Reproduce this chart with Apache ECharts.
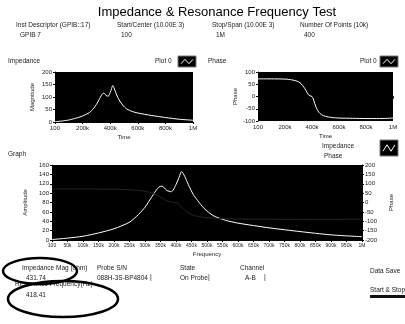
<!DOCTYPE html>
<html><head><meta charset="utf-8">
<script src="https://cdn.jsdelivr.net/npm/echarts@6/dist/echarts.min.js"></script>
<style>html,body{margin:0;padding:0;background:#fff}#c{width:405px;height:324px}</style>
</head><body><div id="c"></div>
<script>
// ---- data ----
const impFreq = [100, 50000, 100000, 150000, 200000, 250000, 280000, 300000, 320000, 335000, 345000, 355000, 370000, 385000, 400000, 410000, 418000, 428000, 440000, 455000, 470000, 490000, 520000, 560000, 600000, 700000, 800000, 900000, 1000000];
const impedance = [1, 4, 8, 15, 24, 38, 55, 70, 90, 105, 113, 115, 106, 103, 118, 134, 146, 136, 118, 98, 84, 68, 52, 42, 36, 26, 18, 11, 7];
const phaseFreq = [100, 100000, 200000, 250000, 280000, 300000, 320000, 340000, 355000, 370000, 385000, 400000, 410000, 420000, 435000, 450000, 470000, 500000, 550000, 600000, 700000, 800000, 900000, 1000000];
const phase = [72, 72, 71, 68, 64, 60, 52, 38, 25, 10, 3, 0, -10, -28, -50, -64, -74, -81, -86, -88, -89, -90, -90, -88];
const smallTicks = [100, 200000, 400000, 600000, 800000, 1000000];
const bigTicks = [100, 50000, 100000, 150000, 200000, 250000, 300000, 350000, 400000, 450000, 500000, 550000, 600000, 650000, 700000, 750000, 800000, 850000, 900000, 950000, 1000000];
const headerLabels = ['Inst Descriptor (GPIB::17)', 'Start/Center (10.00E 3)', 'Stop/Span (10.00E 3)', 'Number Of Points (10k)'];
const headerValues = ['GPIB 7', '100', '1M', '400'];

const F = 'Liberation Sans';
const C = '#222';
function fmtHz(v){ if (v >= 1000000) return (v/1000000)+'M'; if (v >= 1000) return (v/1000)+'k'; return String(v); }
function pairs(xs, ys){ return xs.map((x,i)=>[x, ys[i]]); }

function xAx(grid, ticks, name, gap, fs){
  return {type:'value', gridIndex:grid, min:100, max:1000000, name:name, nameLocation:'middle', nameGap:gap,
    nameTextStyle:{fontFamily:F, fontSize:6, color:C},
    axisLine:{show:true, lineStyle:{color:'#000'}}, splitLine:{show:false},
    axisTick:{show:true, customValues:ticks, length:2, lineStyle:{color:'#000'}},
    axisLabel:{customValues:ticks, formatter:fmtHz, fontFamily:F, fontSize:fs||6, color:C, margin:3, hideOverlap:false}};
}
function yAx(grid, min, max, step, name, gap, pos){
  return {type:'value', gridIndex:grid, min:min, max:max, interval:step, position:pos||'left',
    name:name, nameLocation:'middle', nameGap:gap, nameRotate:90,
    nameTextStyle:{fontFamily:F, fontSize:6, color:C},
    axisLine:{show:true, lineStyle:{color:'#000'}}, splitLine:{show:false},
    axisTick:{show:true, length:2, lineStyle:{color:'#000'}},
    axisLabel:{fontFamily:F, fontSize:6, color:C, margin:3}};
}

function txt(x, y, s, size, extra){
  return Object.assign({type:'text', x:x, y:y, style:{text:s, fontFamily:F, fontSize:size||7, fill:C}}, extra||{});
}
function icon(x, y, h){
  h = h || 11;
  return [
    {type:'rect', shape:{x:x, y:y, width:18, height:h}, style:{fill:'#000', stroke:'#777', lineWidth:1}},
    {type:'polyline', shape:{points:[[x+3,y+h*0.7],[x+7,y+h*0.3],[x+11,y+h*0.7],[x+15,y+h*0.3]]}, style:{stroke:'#fff', lineWidth:1, fill:null}}
  ];
}

const graphics = [];
graphics.push({type:'text', x:217, y:6, style:{text:'Impedance & Resonance Frequency Test', fontFamily:F, fontSize:13, fill:'#000', align:'center'}});
const hx = [16, 117, 212, 300];
headerLabels.forEach((s,i)=>graphics.push(txt(hx[i], 22, s, 6.5)));
headerValues.forEach((s,i)=>graphics.push(txt(hx[i]+4, 32, s, 6.5)));
graphics.push(txt(8, 58, 'Impedance', 6.5), txt(155, 58, 'Plot 0', 6.5), ...icon(178, 56));
graphics.push(txt(208, 58, 'Phase', 6.5), txt(360, 58, 'Plot 0', 6.5), ...icon(380, 56));
graphics.push(txt(8, 151, 'Graph', 6.5));
graphics.push(txt(322, 143, 'Impedance', 6.5), txt(324, 153, 'Phase', 6.5), ...icon(380, 140, 16));
// bottom indicators
graphics.push(txt(22, 265, 'Impedance Mag (ohm)', 6.5), txt(26, 275, '431.74', 6.5));
graphics.push(txt(15, 281, 'Resonance Frequency(Hz)', 6.5), txt(26, 292, '418.41', 6.5));
graphics.push(txt(97, 265, 'Probe S/N', 6.5), txt(97, 275, '088H-3S-BP4804', 6.5));
graphics.push(txt(180, 265, 'State', 6.5), txt(180, 275, 'On Probe', 6.5));
graphics.push(txt(240, 265, 'Channel', 6.5), txt(245, 275, 'A-B', 6.5));
graphics.push(txt(150, 274, '|', 7), txt(208, 274, '|', 7), txt(264, 274, '|', 7));
graphics.push(txt(370, 268, 'Data Save', 6.5), txt(370, 287, 'Start & Stop', 6.5));
graphics.push({type:'rect', shape:{x:370, y:295, width:35, height:3}, style:{fill:'#111'}});
graphics.push({type:'ellipse', shape:{cx:40, cy:271, rx:37, ry:13}, style:{fill:null, stroke:'#000', lineWidth:2.5}});
graphics.push({type:'ellipse', shape:{cx:63, cy:299, rx:55, ry:18}, style:{fill:null, stroke:'#000', lineWidth:2.5}});

const lineS = (xi, yi, data, color, w) => ({type:'line', xAxisIndex:xi, yAxisIndex:yi, data:data, showSymbol:false, smooth:0.25,
  lineStyle:{color:color, width:w||1}, animation:false});

const chart = echarts.init(document.getElementById('c'), null, {renderer:'canvas'});
chart.setOption({
  backgroundColor:'#fff',
  animation:false,
  grid:[
    {left:55, top:72, width:138, height:50, show:true, backgroundColor:'#000', borderWidth:0},
    {left:258, top:72, width:135, height:49, show:true, backgroundColor:'#000', borderWidth:0},
    {left:52, top:165, width:310, height:75, show:true, backgroundColor:'#000', borderWidth:0}
  ],
  xAxis:[ xAx(0, smallTicks, 'Time', 12), xAx(1, smallTicks, 'Time', 12), xAx(2, bigTicks, 'Frequency', 11, 5) ],
  yAxis:[
    yAx(0, 0, 200, 50, 'Magnitude', 20),
    yAx(1, -100, 100, 50, 'Phase', 20),
    yAx(2, 0, 160, 20, 'Amplitude', 20),
    yAx(2, -200, 200, 50, 'Phase', 22, 'right')
  ],
  series:[
    lineS(0, 0, pairs(impFreq, impedance), '#fff'),
    lineS(1, 1, pairs(phaseFreq, phase), '#fff'),
    lineS(2, 2, pairs(impFreq, impedance), '#fff'),
    lineS(2, 3, pairs(phaseFreq, phase), '#262626')
  ],
  graphic:graphics
});
</script></body></html>
